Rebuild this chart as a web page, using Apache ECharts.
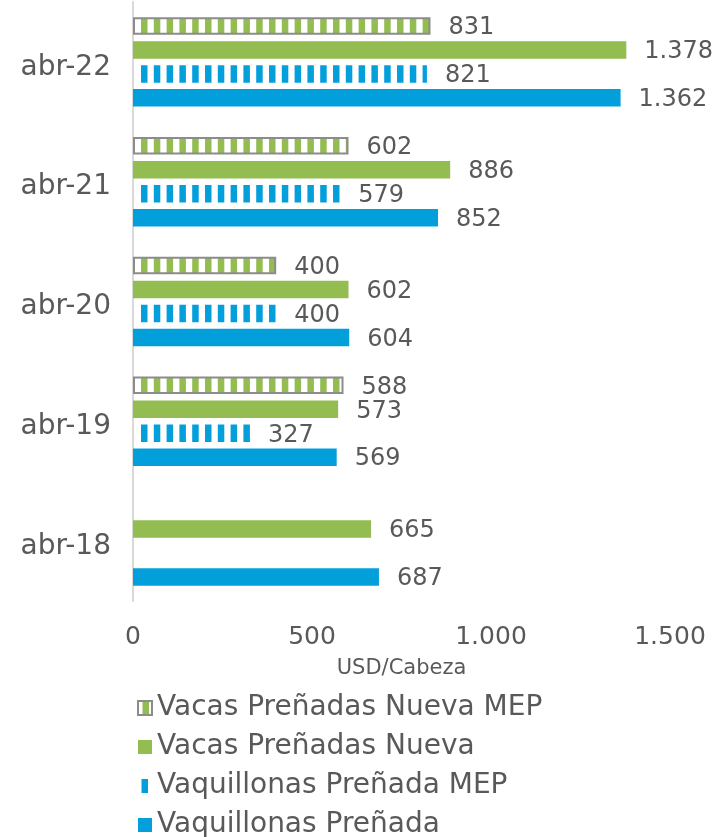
<!DOCTYPE html>
<html>
<head>
<meta charset="utf-8">
<script src="https://cdn.jsdelivr.net/npm/echarts@6/dist/echarts.min.js"></script>
<style>html,body{margin:0;padding:0;background:#fff;}#c{width:727px;height:837px;}</style>
</head>
<body>
<div id="c"></div>
<script>
var categories = ['abr-18', 'abr-19', 'abr-20', 'abr-21', 'abr-22'];
var vaquillonas = [687, 569, 604, 852, 1362];
var vaquillonasMEP = [null, 327, 400, 579, 821];
var vacas = [665, 573, 602, 886, 1378];
var vacasMEP = [null, 588, 400, 602, 831];
var xTicks = [0, 500, 1000, 1500];

var BLUE = '#039fdb', GREEN = '#93bd51', GRAY = '#8c8c8c', TXT = '#595959';
var FONT = 'DejaVu Sans';

function stripePattern(bg, fg, width, start, step) {
  var c = document.createElement('canvas');
  c.width = width; c.height = 20;
  var ctx = c.getContext('2d');
  if (bg) { ctx.fillStyle = bg; ctx.fillRect(0, 0, c.width, 20); }
  ctx.fillStyle = fg;
  for (var x = start; x < c.width; x += step) { ctx.fillRect(x, 0, 6.5, 20); }
  return { image: c, repeat: 'repeat' };
}

function fmt(v) {
  return String(v).replace(/\B(?=(\d{3})+(?!\d))/g, '.');
}

var labelCfg = {
  show: true, position: 'right', distance: 18, color: TXT, fontSize: 24, fontFamily: FONT,
  offset: [0, 2],
  formatter: function (p) { return fmt(p.value); }
};

var BW = 17.5, GAP = '37%';

var chart = echarts.init(document.getElementById('c'));
chart.setOption({
  animation: false,
  textStyle: { fontFamily: FONT },
  grid: { left: 133, right: 57, top: 2, bottom: 236, containLabel: false },
  xAxis: {
    type: 'value', min: xTicks[0], max: xTicks[xTicks.length - 1], interval: 500,
    name: 'USD/Cabeza', nameLocation: 'middle', nameGap: 57,
    nameTextStyle: { color: TXT, fontSize: 21, fontFamily: FONT },
    axisLine: { show: false }, axisTick: { show: false }, splitLine: { show: false },
    axisLabel: { color: TXT, fontSize: 25, margin: 24, fontFamily: FONT, formatter: function (v) { return fmt(v); } }
  },
  yAxis: {
    type: 'category', data: categories,
    axisLine: { show: true, lineStyle: { color: '#d9d9d9', width: 2 } },
    axisTick: { show: false },
    axisLabel: {
      color: TXT, fontSize: 28, margin: 22, fontFamily: FONT,
      formatter: '{a|{value}}',
      rich: { a: { color: TXT, fontSize: 28, fontFamily: FONT, padding: [11, 0, 0, 0] } }
    }
  },
  legend: {
    orient: 'vertical', left: 137, top: 694, height: 150, padding: 0, itemWidth: 14, itemHeight: 14, itemGap: 11,
    textStyle: { color: TXT, fontSize: 28, fontFamily: FONT, lineHeight: 27 },
    data: [
      { name: 'Vacas Preñadas Nueva MEP', icon: 'rect',
        itemStyle: { color: stripePattern('#ffffff', GREEN, 14, 4.5, 100), borderColor: GRAY, borderWidth: 2 } },
      { name: 'Vacas Preñadas Nueva', icon: 'rect' },
      { name: 'Vaquillonas Preñada MEP', icon: 'rect',
        itemStyle: { color: stripePattern(null, BLUE, 14, 3.5, 100) } },
      { name: 'Vaquillonas Preñada', icon: 'rect' }
    ]
  },
  series: [
    { name: 'Vacas Preñadas Nueva MEP', type: 'bar', data: vacasMEP, barWidth: BW, barGap: GAP,
      itemStyle: { color: stripePattern('#ffffff', GREEN, 727, 141, 12.8), borderColor: GRAY, borderWidth: 2 }, label: labelCfg },
    { name: 'Vacas Preñadas Nueva', type: 'bar', data: vacas, barWidth: BW, barGap: GAP,
      itemStyle: { color: GREEN }, label: labelCfg },
    { name: 'Vaquillonas Preñada MEP', type: 'bar', data: vaquillonasMEP, barWidth: BW, barGap: GAP,
      itemStyle: { color: stripePattern(null, BLUE, 727, 141, 12.8) }, label: labelCfg },
    { name: 'Vaquillonas Preñada', type: 'bar', data: vaquillonas, barWidth: BW, barGap: GAP,
      itemStyle: { color: BLUE }, label: labelCfg }
  ]
});
</script>
</body>
</html>
